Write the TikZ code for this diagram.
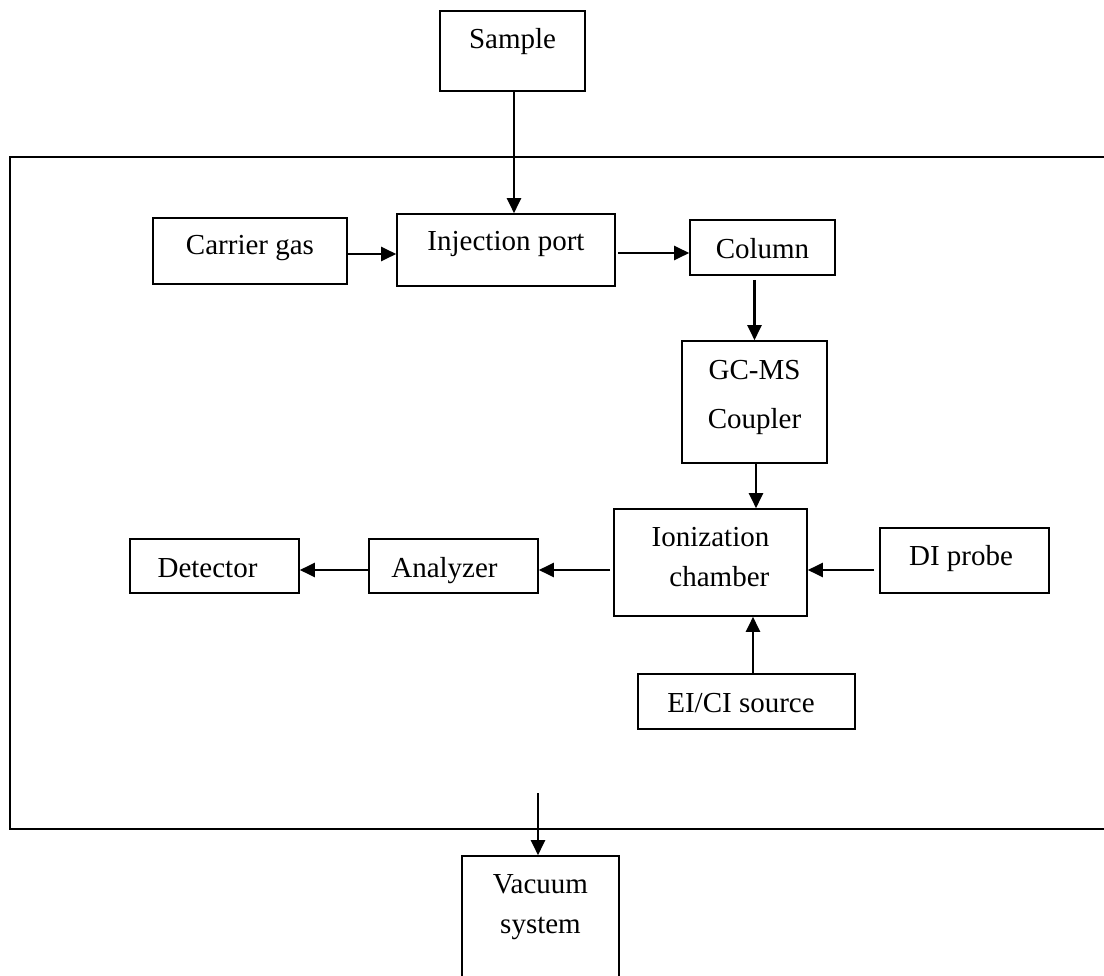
\documentclass[tikz,border=0pt]{standalone}
\usepackage{fontspec}
\setmainfont{Liberation Serif}
\usetikzlibrary{arrows.meta}
\begin{document}
\begin{tikzpicture}[x=1pt,y=-1pt,
  box/.style={draw, line width=1.6pt, inner sep=0pt, font=\fontsize{29}{40}\selectfont},
  th/.style 2 args={text height=#1pt, text depth=#2pt},
  conn/.style={line width=2.2pt, -{Triangle[length=15pt,width=14pt]}},
  frm/.style={draw, line width=1.6pt, inner sep=0pt}]
\useasboundingbox (0,0) rectangle (1104,976);
\clip (0,0) rectangle (1104,976);
% frame
\node[frm, minimum width=1104pt, minimum height=672pt] (frame) at (562,493) {};
% boxes
\node[box, minimum width=145pt, minimum height=80pt, th={20}{25}] (sample) at (512.5,51) {Sample};
\node[box, minimum width=194pt, minimum height=66pt, th={20}{12}] (carrier) at (250,251) {Carrier gas};
\node[box, minimum width=218pt, minimum height=72pt, th={20}{18}] (inj) at (506,250) {Injection port};
\node[box, minimum width=145pt, minimum height=55pt, th={28}{6}] (col) at (762.5,247.5) {Column};
\node[box, minimum width=145pt, minimum height=122pt, th={60}{6}] (gc) at (754.5,402)
  {\begin{tabular}[b]{@{}c@{}}GC-MS\\[10pt]Coupler\end{tabular}};
\node[box, minimum width=193pt, minimum height=107pt, th={53}{6}] (ion) at (710.5,562.5)
  {\begin{tabular}[b]{@{}r@{}}Ionization\\chamber\end{tabular}};
\node[box, minimum width=169pt, minimum height=65pt, th={20}{11}] (di) at (964.5,560.5) {DI probe\hspace*{7pt}};
\node[box, minimum width=217pt, minimum height=55pt, th={27}{6}] (ei) at (746.5,701.5) {EI/CI source\hspace*{11pt}};
\node[box, minimum width=169pt, minimum height=54pt, th={28}{6}] (ana) at (453.5,566) {Analyzer\hspace*{18pt}};
\node[box, minimum width=169pt, minimum height=54pt, th={28}{6}] (det) at (214.5,566) {Detector\hspace*{14pt}};
\node[box, minimum width=157pt, minimum height=130pt, th={30}{6}] (vac) at (540.5,921)
  {\begin{tabular}[b]{@{}c@{}}Vacuum\\system\end{tabular}};
\coordinate (vstart) at (538,793);
% connectors
\draw[conn] ([xshift=1.5pt]sample.south) -- ([xshift=1.5pt]sample.south |- inj.north);
\draw[conn] ([yshift=-3pt]carrier.east) -- ([yshift=-3pt]carrier.east -| inj.west);
\draw[conn, shorten <=2pt] ([yshift=-3pt]inj.east) -- ([yshift=-3pt]inj.east -| col.west);
\draw[conn, shorten <=4pt] (gc.north |- col.south) -- (gc.north);
\draw[conn] ([xshift=1.5pt]gc.south) -- ([xshift=1.5pt]gc.south |- ion.north);
\draw[conn, shorten <=5pt] ([yshift=-9.5pt]di.west) -- ([yshift=-9.5pt]di.west -| ion.east);
\draw[conn] ([xshift=6.5pt]ei.north) -- ([xshift=6.5pt]ei.north |- ion.south);
\draw[conn, shorten <=3pt] ([yshift=-7.5pt]ion.west) -- ([yshift=-7.5pt]ion.west -| ana.east);
\draw[conn] ([yshift=-4pt]ana.west) -- ([yshift=-4pt]ana.west -| det.east);
\draw[conn] (vstart) -- (vstart |- vac.north);
\end{tikzpicture}
\end{document}
